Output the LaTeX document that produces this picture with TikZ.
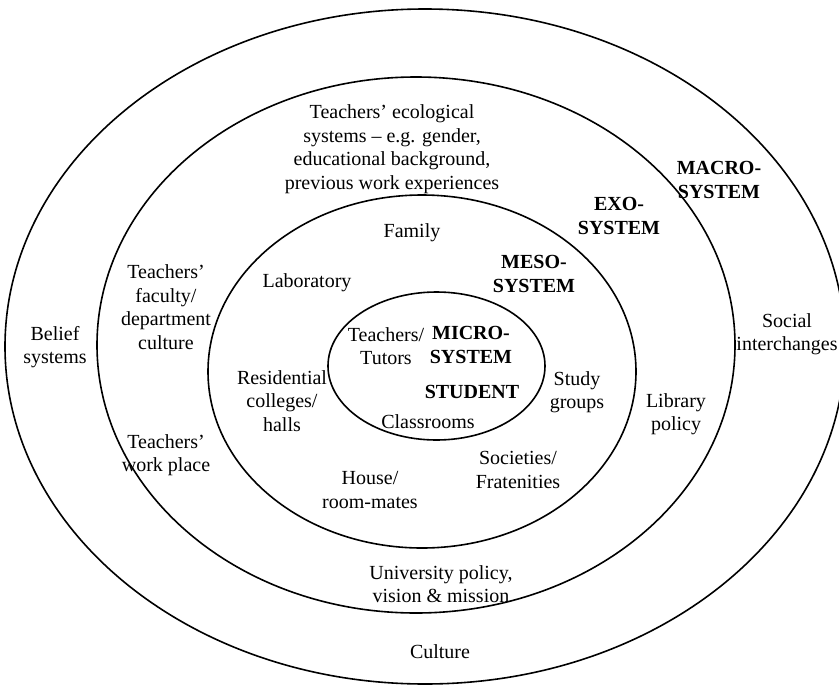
\documentclass[tikz,border=0pt]{standalone}
\usepackage{fontspec}
\setmainfont{Liberation Serif}
\begin{document}
\begin{tikzpicture}[x=1pt,y=-1pt,
  ring/.style={line width=1.6pt},
  lbl/.style={inner sep=0pt,align=center,font=\fontsize{20}{23.5}\selectfont},
  blbl/.style={lbl,font=\fontsize{20}{23.5}\selectfont\bfseries}]
\useasboundingbox (0,0) rectangle (839,686);
\clip (0,0) rectangle (839,686);
% ellipses
\draw[ring] (425,346.5) ellipse [x radius=420, y radius=337.5];
\draw[ring] (416,345) ellipse [x radius=319, y radius=268];
\draw[ring] (422,371.5) ellipse [x radius=214, y radius=176.5];
\draw[ring] (436.5,366) ellipse [x radius=108.5, y radius=74];
% labels
\node[lbl] (eco) at (392,149) {Teachers’ ecological\\systems – e.g. gender,\\educational background,\\previous work experiences};
\node[blbl] (macro) at (719,180) {MACRO-\\SYSTEM};
\node[blbl] (exo) at (619,216) {EXO-\\SYSTEM};
\node[blbl] (meso) at (534,274) {MESO-\\SYSTEM};
\node[blbl] (micro) at (471,345) {MICRO-\\SYSTEM};
\node[blbl] (student) at (472,392) {STUDENT};
\node[lbl] (tutors) at (386,346) {Teachers/\\Tutors};
\node[lbl] (class) at (428,422) {Classrooms};
\node[lbl] (family) at (412,233) {Family};
\node[lbl] (lab) at (307,283) {Laboratory};
\node[lbl] (res) at (282,401) {Residential\\colleges/\\halls};
\node[lbl] (house) at (370,490) {House/\\room-mates};
\node[lbl] (soc) at (518,470) {Societies/\\Fratenities};
\node[lbl] (study) at (577,392) {Study\\groups};
\node[lbl] (lib) at (676,414) {Library\\policy};
\node[lbl] (fac) at (166,307) {Teachers’\\faculty/\\department\\culture};
\node[lbl] (work) at (166,455) {Teachers’\\work place};
\node[lbl] (belief) at (55,347) {Belief\\systems};
\node[lbl] (social) at (787,334) {Social\\interchanges};
\node[lbl] (univ) at (441,584) {University policy,\\vision \& mission};
\node[lbl] (culture) at (440,652) {Culture};
\end{tikzpicture}
\end{document}
